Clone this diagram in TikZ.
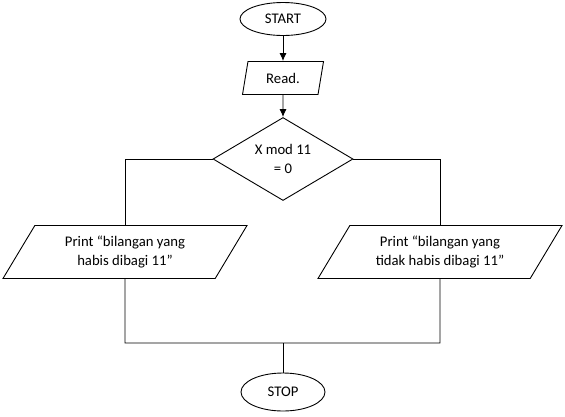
\documentclass[tikz,border=0pt]{standalone}
\usepackage{fontspec}
\setmainfont{Carlito}
\usepackage{tikz}
\usetikzlibrary{positioning,shapes.geometric,arrows.meta}

\begin{document}
\begin{tikzpicture}[line width=0.9pt, node distance=20pt, on grid,
    font=\fontsize{14.7pt}{19pt}\selectfont,
    term/.style={ellipse, draw, inner sep=0pt, minimum width=86pt, minimum height=33pt},
    io/.style={trapezium, draw, trapezium stretches body, align=center, inner sep=1pt},
    decision/.style={diamond, draw, aspect=1.7, inner sep=0pt, align=center, minimum width=140pt, minimum height=83pt},
    flow/.style={-{Latex[length=8pt,width=7pt]}}]
        \useasboundingbox (0,0) rectangle (565pt,-416pt);
        \node[term] (start) at (283pt,-19pt) {START};
        \node[io, below=59pt of start, trapezium left angle=66, trapezium right angle=114,
              minimum width=81pt, minimum height=33pt] (read) {Read.};
        \node[decision, below=81pt of read] (dec) {X mod 11\\= 0};
        \node[io, below left=93pt and 158pt of dec, trapezium left angle=47, trapezium right angle=133,
              minimum width=244pt, minimum height=53pt] (yes) {Print “bilangan yang\\habis dibagi 11”};
        \node[io, below right=93pt and 157pt of dec, trapezium left angle=47, trapezium right angle=133,
              minimum width=244pt, minimum height=53pt] (no) {Print “bilangan yang\\tidak habis dibagi 11”};
        \node[term, below=233pt of dec, minimum height=38pt, minimum width=84pt] (stop) {STOP};
        \coordinate[below=91pt of yes] (join-l);
        \coordinate (join-r) at (no |- join-l);
        \coordinate (join-m) at (stop |- join-l);
        \draw[flow] (start) -- (read);
        \draw[flow] (read) -- (dec);
        \draw (dec.west) -| (yes.north);
        \draw (dec.east) -| (no.north);
        \draw (yes.south) -- (join-l) -- (join-r) -- (no.south);
        \draw (join-m) -- (stop);
    \end{tikzpicture}
\end{document}
